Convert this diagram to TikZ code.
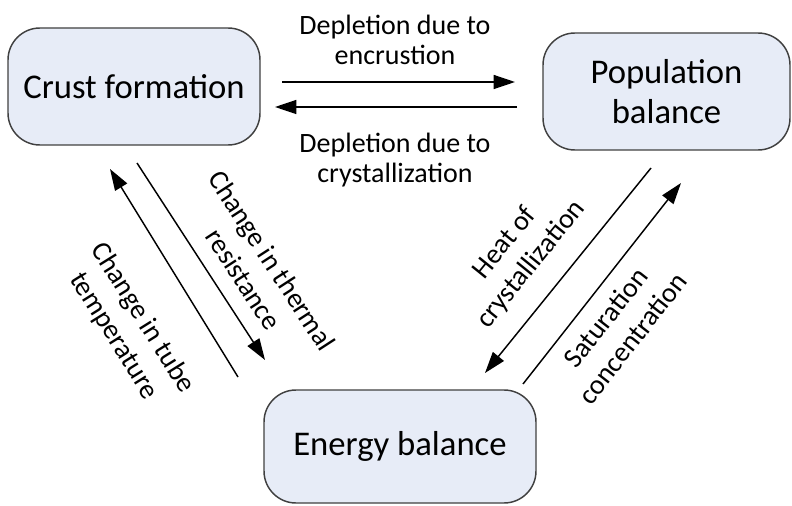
\documentclass[tikz,border=0pt]{standalone}
\usepackage{fontspec}
\setmainfont{Carlito}
\usetikzlibrary{arrows.meta}
\definecolor{boxfill}{RGB}{231,236,247}
\definecolor{boxline}{RGB}{64,64,64}
\begin{document}
\begin{tikzpicture}[x=0.75pt,y=-0.75pt,
  blk/.style={draw=boxline, line width=1.1pt, fill=boxfill, rounded corners=24pt,
    align=center, font=\fontsize{26}{30}\selectfont, inner sep=0pt},
  lbl/.style={align=center, font=\fontsize{21}{23}\selectfont, inner sep=0pt},
  rlbl/.style={align=center, font=\fontsize{21}{25.5}\selectfont, inner sep=0pt},
  conn/.style={line width=1.1pt, -{Triangle[length=16pt,width=10.5pt]}}]
\useasboundingbox (0,0) rectangle (792,506);
\node[blk, minimum width=189pt, minimum height=87.75pt] (crust) at (134,86.5) {Crust formation};
\node[blk, minimum width=185.25pt, minimum height=87.75pt] (pop) at (666.5,91.5) {Population\\balance};
\node[blk, minimum width=204pt, minimum height=84.75pt] (energy) at (400,446.5) {Energy balance};
% connector ends
\coordinate (t1) at (282,82);  \coordinate (t2) at (515,82);
\coordinate (b1) at (517,107); \coordinate (b2) at (275,107);
\coordinate (l1) at (238,377); \coordinate (l2) at (110,169);
\coordinate (m1) at (137,163); \coordinate (m2) at (265,360);
\coordinate (r1) at (651,168); \coordinate (r2) at (485,373);
\coordinate (s1) at (523,384); \coordinate (s2) at (681,183);
\draw[conn] (t1) -- (t2);
\draw[conn] (b1) -- (b2);
\draw[conn] (l1) -- (l2);
\draw[conn] (m1) -- (m2);
\draw[conn] (r1) -- (r2);
\draw[conn] (s1) -- (s2);
\node[lbl] (lt) at (395,40) {Depletion due to\\encrustion};
\node[lbl] (lb) at (395,160) {Depletion due to\\crystallization};
\node[rlbl, rotate=-57] (ltr) at (258,270) {Change in thermal\\resistance};
\node[rlbl, rotate=-58] (ltt) at (128,327) {Change in tube\\temperature};
\node[rlbl, rotate=51] (lhc) at (518,254) {Heat of\\crystallization};
\node[rlbl, rotate=52] (lsc) at (619,328) {Saturation\\concentration};
\end{tikzpicture}
\end{document}
